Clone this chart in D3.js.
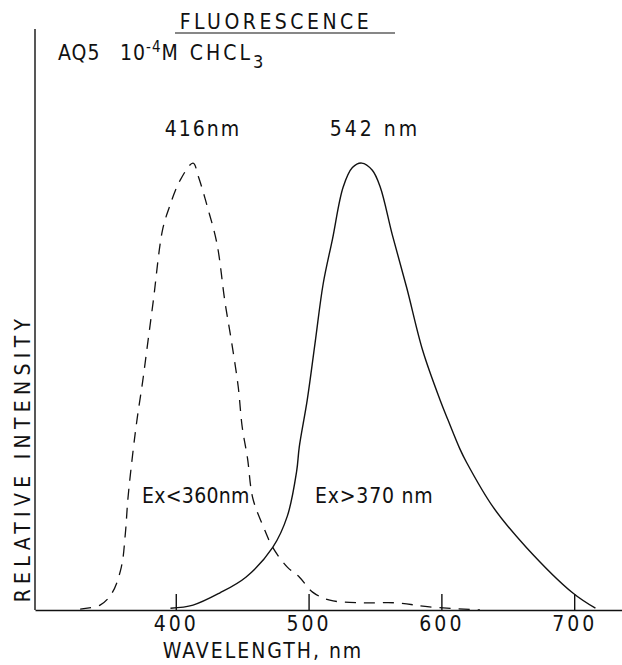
<!DOCTYPE html>
<html lang="en">
    <head>
        <meta charset="utf-8">
        <title>Fluorescence AQ5</title>
        <script type="text/javascript" src="https://cdn.jsdelivr.net/npm/d3@7"></script>
        <style>
        body { margin: 0; background: #fff; }
        .axis path,
        .axis line {
            fill: none;
            stroke: #111;
            stroke-width: 1.4px;
        }
        .axis text, .lbl {
            font-family: "DejaVu Sans Condensed", "DejaVu Sans", sans-serif;
            font-size: 21px;
            fill: #111;
        }
        </style>
    </head>
    <body>
        <script type="text/javascript">

            var w = 622; // svg width
            var h = 665; // svg height

            // Emission excited below 360 nm (dashed curve)
            var dashWl  = [328, 343, 352, 359, 362, 364, 368, 371, 375, 379, 383, 390, 395, 403, 413, 417, 424, 431, 437, 442, 447, 450, 454, 458, 466, 473, 484, 493, 503, 516, 541, 566, 591, 629];
            var dashInt = [0.2, 1.1, 3.8, 9.6, 17, 25, 36, 43, 51, 60, 69, 85, 90, 96, 100, 97, 90, 82, 69, 60, 50, 41, 34, 25, 18.6, 14, 9.6, 7.4, 4, 2.2, 1.6, 1.6, 0.7, 0];

            // Emission excited above 370 nm (solid curve)
            var solidWl  = [396, 413, 433, 453, 473, 484, 491, 493, 499, 505, 511, 518, 526, 533, 540, 548, 554, 563, 574, 586, 599, 605, 614, 619, 639, 664, 699, 716];
            var solidInt = [0.4, 1.1, 3.8, 7.4, 14, 21, 31, 36.5, 47, 60, 73, 83, 94.6, 99, 100, 98.4, 94.6, 84, 72, 58, 47, 42.5, 36, 33, 23, 14, 3.8, 0.4];

            var xTicks = [400, 500, 600, 700];

            var svg = d3.select("body").append("svg")
                .attr("width", w)
                .attr("height", h);

            var x = d3.scaleLinear().domain([294, 736]).range([35, 622]);
            var y = d3.scaleLinear().domain([0, 130]).range([610, 29]);

            // x axis: ticks pointing up into the plot
            svg.append("g")
                .attr("class", "axis")
                .attr("transform", "translate(0,610)")
                .call(d3.axisBottom(x).tickValues(xTicks).tickSizeInner(-16).tickSizeOuter(0).tickPadding(6))
                .call(function(g) { g.selectAll("text").attr("letter-spacing", "3px"); });

            // y axis: plain line, no ticks
            svg.append("line")
                .attr("x1", x(294)).attr("x2", x(294))
                .attr("y1", y(130)).attr("y2", y(0))
                .attr("stroke", "#111").attr("stroke-width", 1.4);

            var line = d3.line()
                .x(function(d) { return x(d[0]); })
                .y(function(d) { return y(d[1]); })
                .curve(d3.curveCatmullRom);

            svg.append("path")
                .datum(d3.zip(dashWl, dashInt))
                .attr("d", line)
                .attr("fill", "none")
                .attr("stroke", "#111")
                .attr("stroke-width", 1.3)
                .attr("stroke-dasharray", "11,8");

            svg.append("path")
                .datum(d3.zip(solidWl, solidInt))
                .attr("d", line)
                .attr("fill", "none")
                .attr("stroke", "#111")
                .attr("stroke-width", 1.4);

            // Title with underline
            svg.append("text").attr("class", "lbl")
                .attr("x", 276).attr("y", 29)
                .attr("text-anchor", "middle")
                .attr("letter-spacing", "3.5px")
                .text("FLUORESCENCE");
            svg.append("line")
                .attr("x1", 175).attr("x2", 395)
                .attr("y1", 33).attr("y2", 33)
                .attr("stroke", "#111").attr("stroke-width", 1.2);

            // Sample label
            var s = svg.append("text").attr("class", "lbl")
                .attr("x", 58).attr("y", 60)
                .attr("letter-spacing", "1px");
            s.append("tspan").text("AQ5");
            s.append("tspan").attr("x", 120).text("10");
            s.append("tspan").attr("dy", -8).attr("font-size", 15).text("-4");
            s.append("tspan").attr("dy", 8).attr("letter-spacing", "3px").text("M CHCL");
            s.append("tspan").attr("dy", 8).attr("font-size", 18).text("3");

            // Peak labels
            svg.append("text").attr("class", "lbl")
                .attr("x", 203).attr("y", y(106))
                .attr("text-anchor", "middle").attr("letter-spacing", "2px")
                .text("416nm");
            svg.append("text").attr("class", "lbl")
                .attr("x", 375).attr("y", y(106))
                .attr("text-anchor", "middle").attr("letter-spacing", "3px")
                .text("542 nm");

            // Excitation labels
            svg.append("text").attr("class", "lbl")
                .attr("x", 142).attr("y", 503)
                .attr("letter-spacing", "0.3px")
                .text("Ex<360nm");
            svg.append("text").attr("class", "lbl")
                .attr("x", 315).attr("y", 503)
                .attr("letter-spacing", "0.8px")
                .text("Ex>370 nm");

            // Axis titles
            svg.append("text").attr("class", "lbl")
                .attr("x", 263).attr("y", 658)
                .attr("text-anchor", "middle").attr("letter-spacing", "2px")
                .text("WAVELENGTH, nm");
            svg.append("text").attr("class", "lbl")
                .attr("transform", "translate(30,458) rotate(-90)")
                .attr("text-anchor", "middle").attr("letter-spacing", "5.3px")
                .text("RELATIVE  INTENSITY");

        </script>
    </body>
</html>
